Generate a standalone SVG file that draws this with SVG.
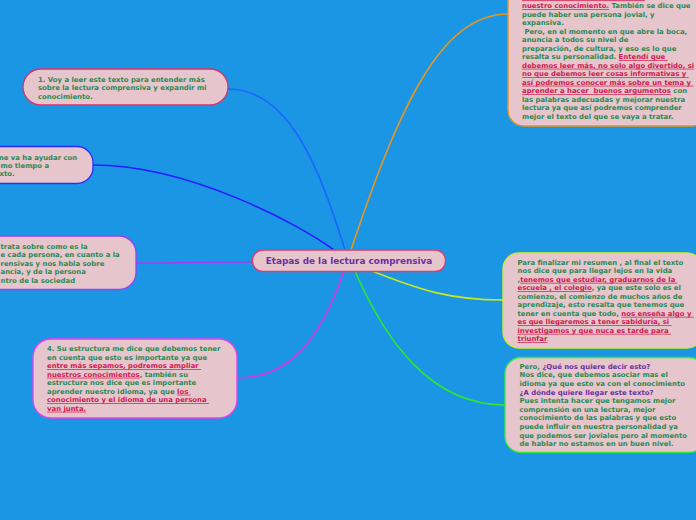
<svg xmlns="http://www.w3.org/2000/svg" width="696" height="520" viewBox="0 0 696 520">
<style>
.n{fill:#e6c5cc;stroke-width:1.3}
.t{font-family:"DejaVu Sans",Verdana,sans-serif;font-weight:bold;font-size:6.9px;fill:#2b8a50}
.r{fill:#cf1a4e;text-decoration:underline}
.p{fill:#6b2fa0}
.c{fill:none;stroke-width:1.6;stroke-linecap:round}
</style>
<rect x="0" y="0" width="696" height="520" fill="#1a96e5"/>
<g id="connectors">
<path class="c" stroke="#e8961e" d="M351,250 C398,110 440,14 508,14"/>
<path class="c" stroke="#1a66ff" d="M345,250 C320,170 290,89 228,89"/>
<path class="c" stroke="#2a1aff" d="M334,250 C300,225 190,165 93,165"/>
<path class="c" stroke="#a13cf5" d="M253,262 C210,262 180,263 136,263"/>
<path class="c" stroke="#e233e8" d="M344,271 C320,340 290,378 237,378"/>
<path class="c" stroke="#c8e81e" d="M372,271 C420,290 450,300 503,300"/>
<path class="c" stroke="#2ee82e" d="M355,271 C385,340 430,405 505,405"/>
</g>
<g id="center">
<rect class="n" x="252.5" y="250" width="193" height="21.5" rx="10.5" stroke="#e03c70"/>
<text class="t p" x="349" y="264.3" text-anchor="middle" style="font-size:8.9px">Etapas de la lectura comprensiva</text>
</g>
<g id="node-top-right">
<rect class="n" x="508" y="-40" width="200" height="166" rx="16" stroke="#e8961e"/>
<line x1="522" y1="0.6" x2="645" y2="0.6" stroke="#cf1a4e" stroke-width="0.8"/>
<text class="t" xml:space="preserve"><tspan x="522" y="8.2"><tspan class="r">nuestro conocimiento.</tspan> También se dice que</tspan><tspan x="522" y="16.7">puede haber una persona jovial, y</tspan><tspan x="522" y="25.2">expansiva.</tspan><tspan x="522" y="33.7"> Pero, en el momento en que abre la boca,</tspan><tspan x="522" y="42.2">anuncia a todos su nivel de</tspan><tspan x="522" y="50.7">preparación, de cultura, y eso es lo que</tspan><tspan x="522" y="59.2">resalta su personalidad. <tspan class="r">Entendí que </tspan></tspan><tspan x="522" y="67.7" class="r">debemos leer más, no solo algo divertido, si</tspan><tspan x="522" y="76.2" class="r">no que debemos leer cosas informativas y </tspan><tspan x="522" y="84.7" class="r">así podremos conocer más sobre un tema y </tspan><tspan x="522" y="93.2"><tspan class="r">aprender a hacer  buenos argumentos</tspan> con</tspan><tspan x="522" y="101.7">las palabras adecuadas y mejorar nuestra</tspan><tspan x="522" y="110.2">lectura ya que así podremos comprender</tspan><tspan x="522" y="118.7">mejor el texto del que se vaya a tratar.</tspan></text>
</g>
<g id="node-1">
<rect class="n" x="23" y="69" width="205" height="36" rx="18" stroke="#d6336b"/>
<text class="t"><tspan x="38" y="81.8">1. Voy a leer este texto para entender más</tspan><tspan x="38" y="90.3">sobre la lectura comprensiva y expandir mi</tspan><tspan x="38" y="98.8">conocimiento.</tspan></text>
</g>
<g id="node-2">
<rect class="n" x="-20" y="146.5" width="113" height="37" rx="16" stroke="#2b2bff"/>
<text class="t"><tspan x="-3.5" y="159.5">me va ha ayudar con</tspan><tspan x="0.5" y="167.9">mo tiempo a</tspan><tspan x="-0.5" y="176.3">xto.</tspan></text>
</g>
<g id="node-3">
<rect class="n" x="-20" y="236" width="156" height="53.5" rx="17" stroke="#a13cf5"/>
<text class="t"><tspan x="0.5" y="248.5">trata sobre como es la</tspan><tspan x="0.5" y="257">e cada persona, en cuanto a la</tspan><tspan x="0.5" y="265.5">rensivas y nos habla sobre</tspan><tspan x="0.5" y="274">ancia, y de la persona</tspan><tspan x="0.5" y="282.5">ntro de la sociedad</tspan></text>
</g>
<g id="node-4">
<rect class="n" x="33" y="339" width="204" height="79" rx="18" stroke="#ec3cec"/>
<text class="t" xml:space="preserve"><tspan x="47" y="351.2">4. Su estructura me dice que debemos tener</tspan><tspan x="47" y="359.7">en cuenta que esto es importante ya que</tspan><tspan x="47" y="368.2" class="r">entre más sepamos, podremos ampliar </tspan><tspan x="47" y="376.7"><tspan class="r">nuestros conocimientos</tspan>, también su</tspan><tspan x="47" y="385.2">estructura nos dice que es importante</tspan><tspan x="47" y="393.7">aprender nuestro idioma, ya que <tspan class="r">los </tspan></tspan><tspan x="47" y="402.2" class="r">conocimiento y el idioma de una persona </tspan><tspan x="47" y="410.7" class="r">van junta.</tspan></text>
</g>
<g id="node-right-middle">
<rect class="n" x="503" y="253" width="200" height="95" rx="16" stroke="#d4ee1e"/>
<text class="t" xml:space="preserve"><tspan x="517.5" y="264.8">Para finalizar mi resumen , al final el texto</tspan><tspan x="517.5" y="273.3">nos dice que para llegar lejos en la vida</tspan><tspan x="517.5" y="281.8">,<tspan class="r">tenemos que estudiar, graduarnos de la </tspan></tspan><tspan x="517.5" y="290.3"><tspan class="r">escuela , el colegio</tspan>, ya que este solo es el</tspan><tspan x="517.5" y="298.8">comienzo, el comienzo de muchos años de</tspan><tspan x="517.5" y="307.3">aprendizaje, esto resalta que tenemos que</tspan><tspan x="517.5" y="315.8">tener en cuenta que todo, <tspan class="r">nos enseña algo y </tspan></tspan><tspan x="517.5" y="324.3" class="r">es que llegaremos a tener sabiduría, si </tspan><tspan x="517.5" y="332.8" class="r">investigamos y que nuca es tarde para </tspan><tspan x="517.5" y="341.3" class="r">triunfar</tspan></text>
</g>
<g id="node-right-bottom">
<rect class="n" x="505" y="357.5" width="200" height="95" rx="16" stroke="#33ee33"/>
<text class="t"><tspan x="519.5" y="368.8">Pero, <tspan class="p">¿Qué nos quiere decir esto?</tspan></tspan><tspan x="519.5" y="377.4">Nos dice, que debemos asociar mas el</tspan><tspan x="519.5" y="386">idioma ya que esto va con el conocimiento</tspan><tspan x="519.5" y="394.6" class="p">¿A dónde quiere llegar este texto?</tspan><tspan x="519.5" y="403.2">Pues intenta hacer que tengamos mejor</tspan><tspan x="519.5" y="411.8">comprensión en una lectura, mejor</tspan><tspan x="519.5" y="420.4">conocimiento de las palabras y que esto</tspan><tspan x="519.5" y="429">puede influir en nuestra personalidad ya</tspan><tspan x="519.5" y="437.6">que podemos ser joviales pero al momento</tspan><tspan x="519.5" y="446.2">de hablar no estamos en un buen nivel.</tspan></text>
</g>
</svg>
